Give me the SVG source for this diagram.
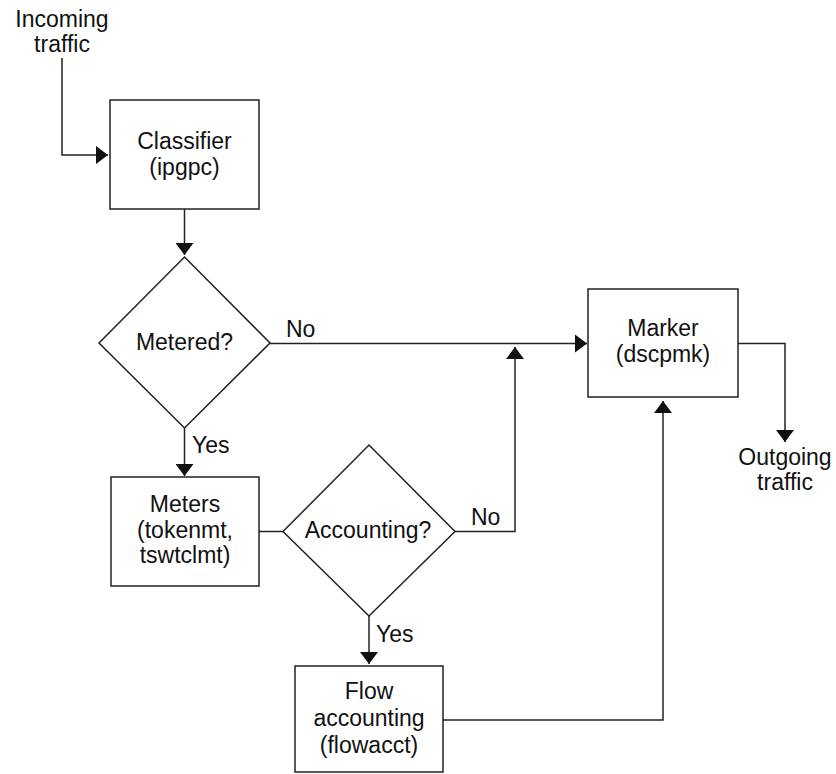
<svg xmlns="http://www.w3.org/2000/svg" width="836" height="774" viewBox="0 0 836 774">
<style>
  text { font-family: "Liberation Sans", Arial, Helvetica, sans-serif; font-size: 23px; fill: #111; text-anchor: middle; }
  text.l { text-anchor: start; }
  .shape { fill: #fff; stroke: #222; stroke-width: 1.5; }
  .conn { fill: none; stroke: #222; stroke-width: 1.5; }
</style>
<defs>
  <marker id="ah" viewBox="0 0 12 18" refX="12" refY="9" markerWidth="12" markerHeight="18" markerUnits="userSpaceOnUse" orient="auto">
    <path d="M0,0 L12,9 L0,18 z" fill="#111"/>
  </marker>
</defs>
<rect width="836" height="774" fill="#fff"/>

<g id="connectors">
  <path class="conn" d="M62,58 V155 H108" marker-end="url(#ah)"/>
  <path class="conn" d="M184.5,209 V255" marker-end="url(#ah)"/>
  <path class="conn" d="M270,343.5 H587" marker-end="url(#ah)"/>
  <path class="conn" d="M184.5,428 V476" marker-end="url(#ah)"/>
  <path class="conn" d="M259,531.5 H283"/>
  <path class="conn" d="M455,531.5 H515 V347" marker-end="url(#ah)"/>
  <path class="conn" d="M369,616 V664" marker-end="url(#ah)"/>
  <path class="conn" d="M443,720 H663 V401" marker-end="url(#ah)"/>
  <path class="conn" d="M738,343.5 H785 V442" marker-end="url(#ah)"/>
  <text class="l" x="286" y="337">No</text>
  <text class="l" x="471" y="525">No</text>
  <text class="l" x="192" y="453">Yes</text>
  <text class="l" x="376" y="642">Yes</text>
</g>

<g id="incoming">
  <text x="62" y="27">Incoming</text>
  <text x="62" y="52">traffic</text>
</g>

<g id="classifier">
  <rect class="shape" x="110" y="100" width="149" height="109"/>
  <text x="184.5" y="149">Classifier</text>
  <text x="184.5" y="175">(ipgpc)</text>
</g>

<g id="metered">
  <polygon class="shape" points="184.5,257 270,343 184.5,428 99,343"/>
  <text x="184.5" y="350">Metered?</text>
</g>

<g id="meters">
  <rect class="shape" x="111" y="477" width="148" height="109"/>
  <text x="185" y="512">Meters</text>
  <text x="185" y="538">(tokenmt,</text>
  <text x="185" y="563">tswtclmt)</text>
</g>

<g id="accounting">
  <polygon class="shape" points="369,445 455,531.5 369,616 283,531.5"/>
  <text x="368" y="538">Accounting?</text>
</g>

<g id="flowacct">
  <rect class="shape" x="295" y="666" width="148" height="106"/>
  <text x="369" y="699">Flow</text>
  <text x="369" y="726">accounting</text>
  <text x="369" y="753">(flowacct)</text>
</g>

<g id="marker">
  <rect class="shape" x="588" y="289" width="150" height="108"/>
  <text x="663" y="336">Marker</text>
  <text x="663" y="362">(dscpmk)</text>
</g>

<g id="outgoing">
  <text x="785" y="465">Outgoing</text>
  <text x="785" y="490">traffic</text>
</g>
</svg>
